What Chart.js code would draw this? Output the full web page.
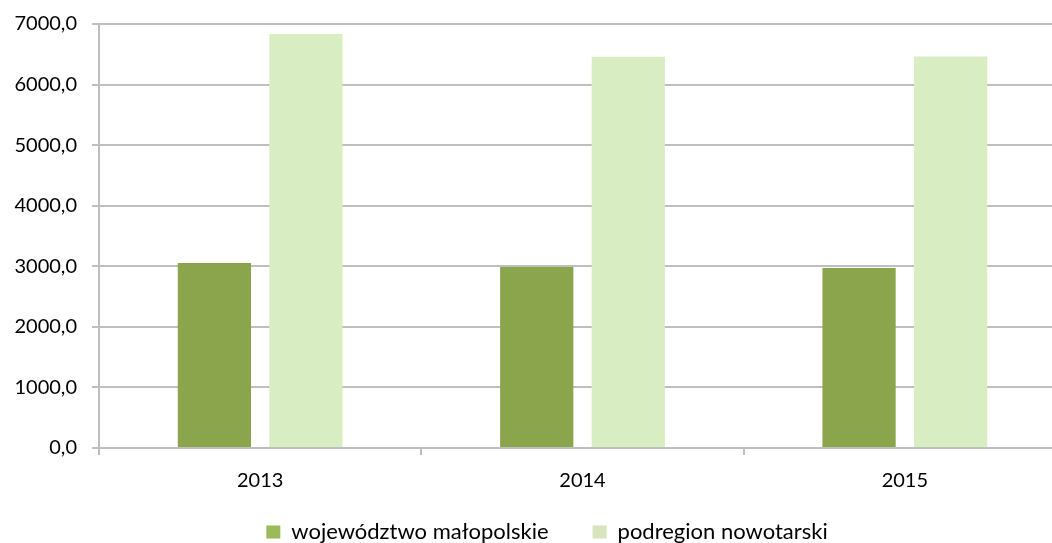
<!DOCTYPE html>
<html>
<head>
<meta charset="utf-8">
<script src="https://cdn.jsdelivr.net/npm/chart.js@4"></script>
<style>
  html, body { margin: 0; padding: 0; background: #fff; overflow: hidden; }
  #wrap { width: 1066px; height: 543px; }
</style>
</head>
<body>
<div id="wrap"><canvas id="chart" width="1066" height="543"></canvas></div>
<script>
const years = ['2013', '2014', '2015'];
const malopolskie = [3054, 2988, 2972];
const nowotarski = [6835, 6460, 6462];
const seriesNames = ['województwo małopolskie', 'podregion nowotarski'];
const yMin = 0, yMax = 7000, yStep = 1000;

const barColors = ['#8aa54c', '#d8edc1'];
const legendColors = ['#9bbb59', '#d7e4bd'];
const gridColor = '#bfbfbf';
const fontFamily = 'Lato, "Open Sans", sans-serif';
const axisFont = { family: fontFamily, size: 20 };
const legendFont = { family: fontFamily, size: 22 };
const legendGap = 44;

// the wide item gap also pads the legend vertically, so place it by hand
const legendShift = {
    id: 'legendShift',
    afterLayout(chart) {
        const lg = chart.legend;
        if (!lg) return;
        lg.left += 14;
        lg.right += 14;
        lg.top = 532 - legendGap - legendFont.size / 2;
        lg.bottom = chart.height;
    }
};

new Chart(document.getElementById('chart'), {
    type: 'bar',
    data: {
        labels: years,
        datasets: seriesNames.map(function (name, i) {
            return {
                label: name,
                data: i === 0 ? malopolskie : nowotarski,
                backgroundColor: barColors[i],
                categoryPercentage: 0.568,
                barPercentage: 0.8
            };
        })
    },
    options: {
        responsive: false,
        animation: false,
        layout: { padding: { top: 24, left: 0, right: 0, bottom: 0 } },
        plugins: {
            tooltip: { enabled: false },
            legend: {
                position: 'bottom',
                maxHeight: 35,
                labels: {
                    color: '#000',
                    font: legendFont,
                    boxWidth: 14,
                    boxHeight: 13,
                    padding: legendGap,
                    generateLabels: function (chart) {
                        const items = Chart.defaults.plugins.legend.labels.generateLabels(chart);
                        items.forEach(function (item, i) {
                            item.fillStyle = legendColors[i];
                            item.strokeStyle = legendColors[i];
                            item.lineWidth = 0;
                        });
                        return items;
                    }
                }
            }
        },
        scales: {
            x: {
                grid: { offset: true, drawOnChartArea: false, color: gridColor, lineWidth: 2, tickLength: 7 },
                border: { color: gridColor, width: 2 },
                ticks: { color: '#000', font: axisFont, padding: 14, maxRotation: 0 },
                afterFit(scale) { scale.height = 60; }
            },
            y: {
                min: yMin,
                max: yMax,
                grid: { color: gridColor, lineWidth: 2, tickLength: 7 },
                border: { color: gridColor, width: 2 },
                ticks: {
                    stepSize: yStep,
                    color: '#000',
                    font: axisFont,
                    padding: 15,
                    callback: function (value) {
                        return value.toFixed(1).replace('.', ',');
                    }
                },
                afterFit(scale) {
                    scale.width = 99;
                    scale.paddingTop = 0;
                }
            }
        }
    },
    plugins: [legendShift]
});
</script>
</body>
</html>
